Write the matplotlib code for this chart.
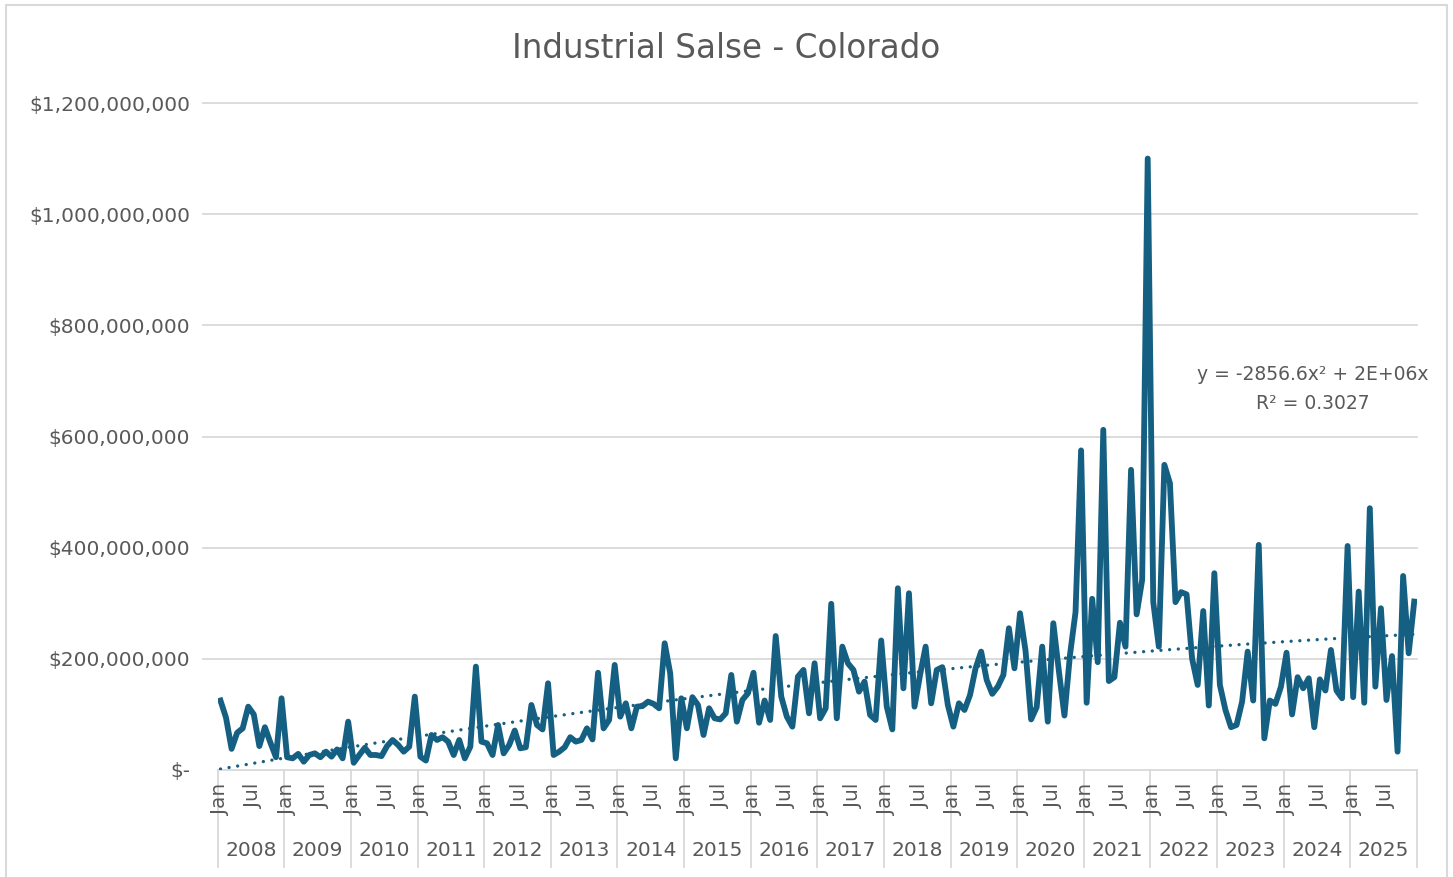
import matplotlib
matplotlib.use("Agg")
import matplotlib.pyplot as plt
from matplotlib.patches import Rectangle
import numpy as np

plt.rcParams.update({
    "font.family": ["DejaVu Sans"],
    "font.size": 14.5,
})

TEXT = "#595959"
GRID = "#D9D9D9"
LINE = "#156082"

years = list(range(2008, 2026))
month_ticks = {0: "Jan", 6: "Jul"}
yticks = [0, 200e6, 400e6, 600e6, 800e6, 1000e6, 1200e6]

# monthly sales, millions of dollars, Jan..Dec for each year
sales_musd = [
    125, 94, 38, 67, 75, 114, 100, 43, 77, 49, 23, 129,        # 2008
    23, 21, 29, 15, 27, 30, 23, 33, 24, 37, 21, 87,            # 2009
    13, 27, 40, 27, 27, 25, 43, 54, 45, 33, 42, 132,           # 2010
    24, 17, 63, 54, 59, 51, 27, 54, 21, 42, 186, 51,           # 2011
    48, 27, 81, 30, 45, 71, 39, 41, 117, 81, 73, 156,          # 2012
    27, 33, 41, 59, 51, 54, 75, 55, 175, 75, 90, 189,          # 2013
    96, 120, 75, 114, 115, 123, 119, 111, 228, 174, 21, 129,   # 2014
    75, 131, 117, 63, 111, 93, 91, 102, 171, 87, 126, 138,     # 2015
    175, 85, 125, 90, 241, 132, 96, 78, 168, 180, 102, 192,    # 2016
    93, 111, 299, 93, 222, 192, 180, 141, 159, 99, 90, 233,    # 2017
    114, 73, 327, 147, 318, 114, 171, 222, 120, 180, 185, 117, # 2018
    78, 120, 108, 135, 183, 213, 162, 137, 150, 171, 255, 183, # 2019
    282, 214, 91, 113, 222, 87, 264, 178, 98, 207, 284, 575,   # 2020
    121, 308, 194, 612, 160, 167, 265, 222, 540, 280, 342, 1100,  # 2021
    302, 222, 549, 516, 302, 320, 316, 200, 153, 286, 116, 354,   # 2022
    153, 108, 77, 81, 123, 213, 125, 405, 57, 125, 119, 150,   # 2023
    211, 100, 167, 147, 165, 77, 163, 143, 216, 143, 129, 403, # 2024
    131, 321, 121, 471, 150, 291, 126, 205, 33, 349, 210, 303, # 2025
]

W, H = 1453, 877
fig = plt.figure(figsize=(W / 100, H / 100), dpi=100)
fig.patch.set_facecolor("white")

# plot area in pixels: x 217.7..1417, y 103..770
left, right, top, bottom = 217.7, 1417, 103, 770
ax = fig.add_axes([left / W, 1 - bottom / H, (right - left) / W, (bottom - top) / H])

values = np.array(sales_musd) * 1e6
n = len(values)
x = np.arange(n)

# horizontal gridlines (start a little left of the plot area, like Excel)
for yv in yticks[1:]:
    ax.plot([-3.15, n - 0.5], [yv, yv], color=GRID, lw=1.3, clip_on=False, zorder=0)
ax.plot([-0.5, n - 0.5], [0, 0], color=GRID, lw=1.3, clip_on=False, zorder=0)

ax.plot(x, values, color=LINE, lw=4.2, solid_joinstyle="round", zorder=3)

# polynomial trend (order 2, intercept set to 0)
t = x + 1.0
A = np.column_stack([t ** 2, t])
coef, *_ = np.linalg.lstsq(A, values, rcond=None)
ax.plot(x, A @ coef, color=LINE, lw=2.4, linestyle=(0, (0.01, 2.6)),
        dash_capstyle="round", zorder=2)

fig.text(1313 / W, 1 - 375 / H, "y = -2856.6x² + 2E+06x", fontsize=13.5,
         color=TEXT, ha="center", va="center")
fig.text(1313 / W, 1 - 403 / H, "R² = 0.3027", fontsize=13.5,
         color=TEXT, ha="center", va="center")

ax.set_xlim(-0.5, n - 0.5)
ax.set_ylim(0, 1.2e9)
ax.set_yticks(yticks)
ax.set_yticklabels(["$-"] + [f"${v:,.0f}" for v in yticks[1:]])
ax.tick_params(axis="y", length=0, pad=20, labelcolor=TEXT, labelsize=14.5)
ax.set_xticks([])
for s in ax.spines.values():
    s.set_visible(False)

# two-level category axis
trans = ax.get_xaxis_transform()
ph = bottom - top
for k in range(len(years) + 1):
    xs = -0.5 + 12 * k
    ax.plot([xs, xs], [0, -97 / ph], color=GRID, lw=1.3, transform=trans, clip_on=False)
for i, yr in enumerate(years):
    for m, lab in month_ticks.items():
        ax.text(12 * i + m, -14 / ph, lab, transform=trans, rotation=90,
                ha="center", va="top", fontsize=14.5, color=TEXT)
    ax.text(12 * i + 5.5, -81 / ph, str(yr), transform=trans,
            ha="center", va="center", fontsize=14.5, color=TEXT)

fig.text(0.5, 1 - 48 / H, "Industrial Salse - Colorado", ha="center", va="center",
         fontsize=23.5, color=TEXT)

# chart border
fig.patches.append(Rectangle((6 / W, -0.01), (1447 - 6) / W, 1.01 - 5 / H,
                             transform=fig.transFigure, fill=False,
                             edgecolor=GRID, lw=1.5))

fig.savefig("out.png", dpi=100, facecolor="white")
